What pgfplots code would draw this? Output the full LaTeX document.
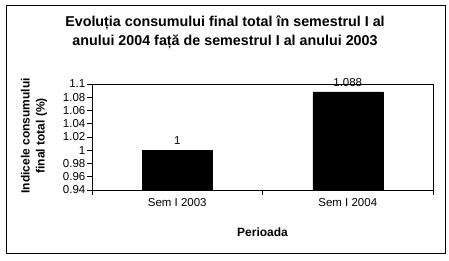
\documentclass[border=0pt]{standalone}
\usepackage{fontspec}
\setmainfont{Liberation Sans}
\usepackage{pgfplots}
\pgfplotsset{compat=1.18}
\begin{document}
\begin{tikzpicture}[x=1pt,y=1pt]
\useasboundingbox (0,0) rectangle (449,260);
\fill[white] (0,0) rectangle (449,260);
\draw[line width=1pt] (6,7) rectangle (445,254);
\begin{axis}[
  at={(92pt,70pt)}, anchor=south west,
  scale only axis, width=341pt, height=106pt,
  xmin=-0.5, xmax=1.5, ymin=0.94, ymax=1.1,
  xtick={0,1}, xticklabels={Sem I 2003, Sem I 2004},
  minor xtick={-0.5,0.5,1.5},
  ytick={0.94,0.96,0.98,1,1.02,1.04,1.06,1.08,1.1},
  yticklabels={0.94,0.96,0.98,1,1.02,1.04,1.06,1.08,1.1},
  major x tick style={draw=none},
  tick align=outside, major tick length=5pt, minor tick length=5pt,
  xtick pos=bottom, ytick pos=left,
  axis line style={line width=0.8pt}, tick style={line width=0.8pt, black},
  ticklabel style={font=\fontsize{11.5}{13}\selectfont},
  yticklabel style={inner sep=1.5pt},
  /pgf/number format/assume math mode=true,
  /pgf/number format/precision=3,
  ybar, bar width=70pt,
  clip=false,
  nodes near coords,
  every node near coord/.append style={font=\fontsize{11.5}{13}\selectfont, yshift=2pt, black},
  title={Evoluția consumului final total în semestrul I al\\anului 2004 față de semestrul I al anului 2003},
  title style={at={(axis description cs:0.39,1.43)}, anchor=center, align=center, font=\bfseries\fontsize{14.3}{19}\selectfont},
  xlabel={Perioada},
  xlabel style={at={(axis description cs:0.5,-0.40)}, anchor=center, font=\bfseries\fontsize{12}{14}\selectfont},
  ylabel={Indicele consumului\\final total (\%)},
  ylabel style={at={(axis description cs:-0.17,0.51)}, anchor=center, align=center, rotate=0, font=\bfseries\fontsize{12}{15}\selectfont},
]
\addplot[fill=black, draw=black] coordinates {(0,1) (1,1.088)};
\end{axis}
\end{tikzpicture}
\end{document}
